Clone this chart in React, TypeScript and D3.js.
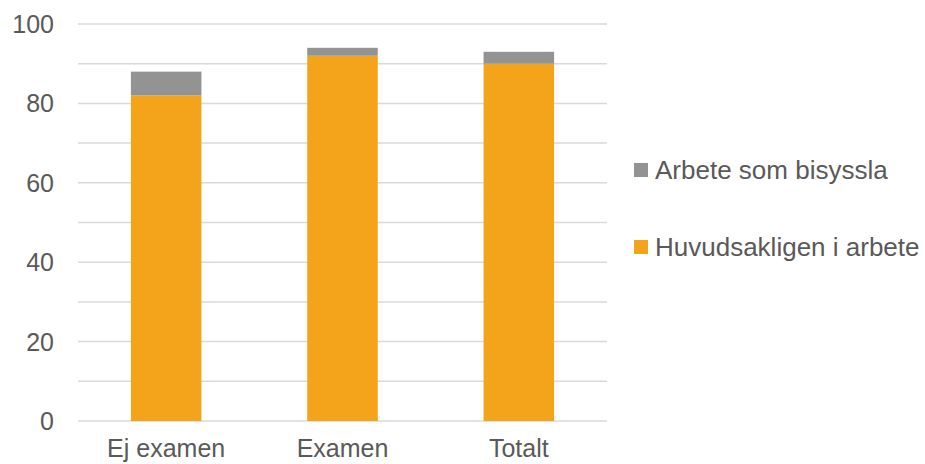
import React from "react";
import * as d3 from "d3";

const categories = ["Ej examen", "Examen", "Totalt"];
const huvudsakligen = [82, 92, 90];
const bisyssla = [6, 2, 3];
const seriesNames = ["Huvudsakligen i arbete", "Arbete som bisyssla"];
const yTicks = [0, 20, 40, 60, 80, 100];
const gridTicks = d3.range(0, 101, 10);

const width = 925;
const height = 464;
const margin = { top: 24, right: 318, bottom: 43, left: 78 };
const colors = ["#F4A41A", "#939393"];
const textColor = "#595959";
const font = "'Liberation Sans', Arial, sans-serif";

const App: React.FC = () => {
  const x = d3
    .scaleBand<string>()
    .domain(categories)
    .range([margin.left, width - margin.right])
    .paddingInner(0.6)
    .paddingOuter(0.3);

  const y = d3
    .scaleLinear()
    .domain([0, 100])
    .range([height - margin.bottom, margin.top]);

  const rows = categories.map((c, i) => ({
    cat: c,
    huvud: huvudsakligen[i],
    bisyssla: bisyssla[i],
  }));
  const stacked = d3.stack<any>().keys(["huvud", "bisyssla"])(rows);

  return (
    <div style={{ position: "absolute", left: 0, top: 0 }}>
      <svg width={width} height={height} style={{ display: "block", fontFamily: font }}>
        <rect width={width} height={height} fill="#fff" />
        {gridTicks.map((t) => (
          <line
            key={t}
            x1={margin.left}
            x2={width - margin.right}
            y1={y(t)}
            y2={y(t)}
            stroke="#D9D9D9"
            strokeWidth={1.5}
          />
        ))}
        {yTicks.map((t) => (
          <text
            key={t}
            x={54}
            y={y(t) + 9}
            textAnchor="end"
            fontSize={25}
            fill={textColor}
          >
            {t}
          </text>
        ))}
        {stacked.map((layer, si) =>
          layer.map((d, i) => (
            <rect
              key={`${si}-${i}`}
              x={x(categories[i])}
              width={x.bandwidth()}
              y={y(d[1])}
              height={y(d[0]) - y(d[1])}
              fill={colors[si]}
            />
          ))
        )}
        {categories.map((c) => (
          <text
            key={c}
            x={(x(c) ?? 0) + x.bandwidth() / 2}
            y={457}
            textAnchor="middle"
            fontSize={25}
            fill={textColor}
          >
            {c}
          </text>
        ))}
        {[1, 0].map((si, li) => (
          <g key={si} transform={`translate(634, ${170 + li * 77})`}>
            <rect x={0} y={-7} width={14} height={14} fill={colors[si]} />
            <text x={21} y={9} fontSize={26} fill={textColor}>
              {seriesNames[si]}
            </text>
          </g>
        ))}
      </svg>
    </div>
  );
};

export default App;
